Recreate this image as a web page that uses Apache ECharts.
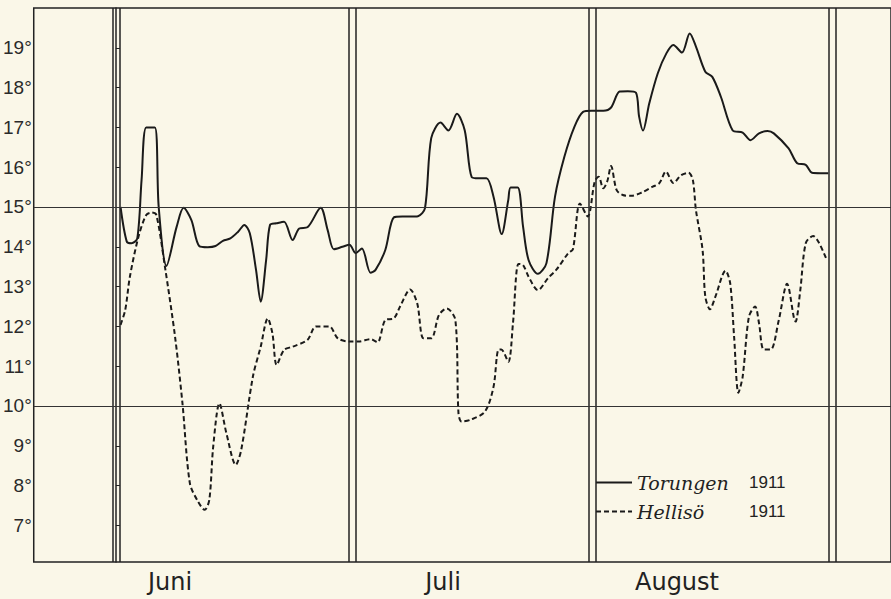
<!DOCTYPE html>
<html>
<head>
<meta charset="utf-8">
<script src="https://cdn.jsdelivr.net/npm/echarts@6/dist/echarts.min.js"></script>
<style>
html,body{margin:0;padding:0;background:#faf7e8;}
#c{width:891px;height:599px;}
</style>
</head>
<body>
<div id="c"></div>
<script>
// Day position (0 = 1 June) and temperature (°C)
const torungenDay = [0.6,1.4,2.0,2.75,3.3,3.9,5.0,5.5,6.5,7.8,8.7,9.7,10.7,11.8,12.8,13.75,14.7,15.7,16.5,17.2,18.0,18.6,19.3,19.8,20.6,21.6,22.7,23.55,24.6,26.3,27.2,28.0,29.1,30.0,30.8,31.6,32.7,33.35,34.6,35.7,36.8,37.8,38.8,39.7,40.5,41.7,42.7,43.8,44.8,45.7,46.6,47.6,48.5,49.55,50.4,50.7,51.6,52.3,53.0,54.2,55.3,56.4,57.6,58.9,60.0,61.1,62.6,63.6,64.7,65.75,66.8,67.2,67.7,68.5,69.6,70.7,71.6,72.7,73.7,74.5,75.7,76.6,77.7,79.2,80.5,81.5,82.6,83.7,84.5,86.4,87.5,88.6,89.4,90.5,91.5];
const torungenTemp = [15.0,14.13,14.09,14.21,15.68,17.0,17.0,15.0,13.52,14.5,14.98,14.67,14.02,13.99,14.02,14.15,14.21,14.38,14.55,14.34,13.42,12.62,13.67,14.55,14.59,14.63,14.17,14.46,14.49,14.98,14.42,13.94,14.0,14.05,13.84,13.96,13.35,13.42,13.92,14.74,14.76,14.76,14.77,14.97,16.73,17.12,16.92,17.34,16.93,15.75,15.72,15.72,15.26,14.32,15.18,15.49,15.49,14.5,13.67,13.32,13.59,15.26,16.26,17.02,17.39,17.42,17.42,17.5,17.9,17.91,17.87,17.27,16.92,17.6,18.36,18.86,19.07,18.88,19.36,19.03,18.4,18.27,17.77,16.93,16.87,16.68,16.85,16.91,16.85,16.47,16.1,16.06,15.86,15.85,15.85];

const hellisoDay = [0.6,1.2,1.8,2.9,3.9,4.6,5.2,6.3,7.6,8.55,9.5,10.55,11.4,12.0,12.5,13.3,14.2,15.4,16.1,17.6,18.6,19.5,20.1,20.65,21.6,22.7,24.6,25.7,27.4,28.5,29.95,31.2,32.7,33.6,34.6,35.7,36.5,37.8,38.7,39.5,40.5,41.5,42.5,43.6,44.0,44.4,45.5,47.4,48.5,49.1,49.5,50.4,51.0,51.7,52.3,53.0,54.2,55.5,56.6,58.1,58.7,59.6,60.6,61.5,62.0,62.6,63.1,63.6,64.3,65.1,66.2,67.7,68.95,69.8,70.65,71.6,72.6,73.55,74.1,74.5,75.35,75.7,76.3,77.0,78.3,78.9,79.4,79.95,80.5,81.3,82.1,82.6,83.2,84.1,85.1,86.2,87.1,87.3,87.9,88.6,89.55,90.3,91.3];
const hellisoTemp = [12.04,12.41,13.25,14.25,14.8,14.86,14.8,13.5,11.74,10.07,8.06,7.6,7.39,7.64,8.98,10.07,9.31,8.52,8.9,10.74,11.49,12.2,11.83,11.03,11.41,11.49,11.66,12.0,12.0,11.7,11.62,11.62,11.68,11.6,12.16,12.2,12.5,12.93,12.58,11.7,11.7,12.29,12.45,12.16,9.82,9.61,9.65,9.86,10.48,11.41,11.42,11.11,12.08,13.57,13.54,13.25,12.91,13.21,13.43,13.84,13.94,15.09,14.76,15.64,15.76,15.47,15.64,16.03,15.43,15.3,15.28,15.38,15.51,15.6,15.89,15.6,15.8,15.86,15.68,14.92,13.92,12.75,12.43,12.75,13.4,13.08,11.74,10.33,10.74,12.24,12.5,12.08,11.42,11.42,12.12,13.07,12.2,12.12,12.91,14.09,14.27,14.1,13.67];

const seriesNames = ['Torungen', 'Hellisö'];
const yearLabel = '1911';
const yTicks = [7,8,9,10,11,12,13,14,15,16,17,18,19];
const refTemps = [15, 10];
const monthNames = ['Juni', 'Juli', 'August'];
const monthBounds = [0, 30.3, 61.2, 92];

const ink = '#222';
const pairs = (xs, ys) => xs.map((x, i) => [x, ys[i]]);

const monthLineData = [];
monthBounds.forEach(b => {
  monthLineData.push({xAxis: b - 0.45});
  monthLineData.push({xAxis: b + 0.45});
});

const chart = echarts.init(document.getElementById('c'), null, {renderer: 'svg'});
chart.setOption({
  backgroundColor: '#faf7e8',
  animation: false,
  grid: {left: 30, right: 0, top: 8, bottom: 37, show: true, borderColor: ink, borderWidth: 1.5, backgroundColor: 'transparent'},
  xAxis: {type: 'value', min: -10.55, max: 99.55, show: false},
  yAxis: {
    type: 'value', min: 6.08, max: 20.0,
    axisLine: {show: true, lineStyle: {color: ink, width: 1.5}},
    splitLine: {show: false},
    axisTick: {show: true, inside: true, length: 4, customValues: yTicks, lineStyle: {color: ink}},
    axisLabel: {customValues: yTicks, formatter: v => v + '°', color: '#2a2a2a', fontSize: 19, fontFamily: 'Liberation Sans Narrow, Liberation Sans, sans-serif', margin: 2}
  },
  legend: {
    orient: 'vertical', left: 590, top: 468, itemGap: 10, itemWidth: 36, itemHeight: 14,
    selectedMode: false,
    data: seriesNames,
    itemStyle: {opacity: 0},
    formatter: n => '{n|' + n + '}{y|' + yearLabel + '}',
    textStyle: {
      color: ink,
      rich: {
        n: {fontFamily: 'DejaVu Serif, serif', fontStyle: 'italic', fontSize: 19, width: 112, color: ink},
        y: {fontFamily: 'Liberation Sans, sans-serif', fontSize: 17, color: ink}
      }
    }
  },
  graphic: monthNames.map((m, i) => ({
    type: 'text',
    x: [170, 443, 677][i],
    y: 582,
    style: {text: m, font: '24px "DejaVu Sans", sans-serif', fill: ink, align: 'center', verticalAlign: 'middle'}
  })),
  series: [
    {
      name: seriesNames[0], type: 'line', data: pairs(torungenDay, torungenTemp),
      smooth: 0.3, symbol: 'none', lineStyle: {color: '#1a1a1a', width: 2},
      itemStyle: {color: '#1a1a1a'},
      markLine: {
        silent: true, symbol: 'none', label: {show: false},
        lineStyle: {color: ink, width: 1.5, type: 'solid'},
        data: monthLineData.concat(refTemps.map(t => ({yAxis: t, lineStyle: {width: 1.1, color: '#333'}})))
      }
    },
    {
      name: seriesNames[1], type: 'line', data: pairs(hellisoDay, hellisoTemp),
      smooth: 0.3, symbol: 'none', lineStyle: {color: '#1a1a1a', width: 2, type: [5, 3]},
      itemStyle: {color: '#1a1a1a'}
    }
  ]
});
</script>
</body>
</html>
